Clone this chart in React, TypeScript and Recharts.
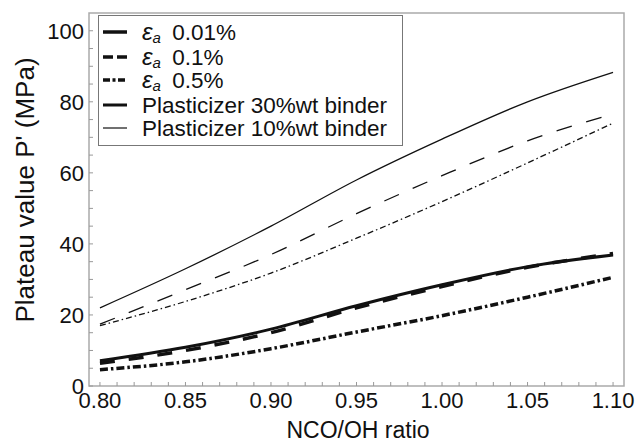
import React from 'react';
import { LineChart, Line, XAxis, YAxis, Legend, ReferenceArea } from 'recharts';

const ratios = [0.8, 0.85, 0.9, 0.95, 1.0, 1.05, 1.1];

// plasticizer 10%wt binder (thin lines)
const thin001 = [22.0, 33.0, 45.0, 58.0, 69.5, 80.0, 88.3];
const thin01 = [17.4, 27.1, 37.0, 48.5, 59.2, 69.0, 76.6];
const thin05 = [17.0, 23.8, 31.8, 41.6, 51.9, 62.8, 74.0];

// plasticizer 30%wt binder (thick lines)
const thick001 = [7.1, 10.9, 16.0, 22.6, 28.5, 33.6, 36.9];
const thick01 = [6.4, 10.0, 15.0, 22.0, 28.0, 33.4, 37.3];
const thick05 = [4.6, 6.8, 10.5, 15.2, 19.8, 25.0, 30.6];

const xTicks = [
  0.8, 0.81, 0.82, 0.83, 0.84, 0.85, 0.86, 0.87, 0.88, 0.89, 0.9, 0.91, 0.92, 0.93, 0.94, 0.95,
  0.96, 0.97, 0.98, 0.99, 1.0, 1.01, 1.02, 1.03, 1.04, 1.05, 1.06, 1.07, 1.08, 1.09, 1.1,
];
const yTicks = [0, 5, 10, 15, 20, 25, 30, 35, 40, 45, 50, 55, 60, 65, 70, 75, 80, 85, 90, 95, 100];

const rows = ratios.map((x, i) => ({
  x,
  thin001: thin001[i],
  thin01: thin01[i],
  thin05: thin05[i],
  thick001: thick001[i],
  thick01: thick01[i],
  thick05: thick05[i],
}));

const FONT = '"Liberation Sans", Arial, Helvetica, sans-serif';
const PLOT_LEFT = 89;
const PLOT_BOTTOM = 386;
const FRAME = '#aaa';
const INK = '#111';

function XTick(props: any) {
  const { x, payload } = props;
  const v = payload.value as number;
  const major = Math.round(v * 100) % 5 === 0;
  return (
    <g>
      <line x1={x} x2={x} y1={PLOT_BOTTOM} y2={PLOT_BOTTOM - 4} stroke="#999" />
      {major && (
        <text x={x} y={PLOT_BOTTOM + 22} textAnchor="middle" fontFamily={FONT} fontSize={22} fill={INK}>
          {v.toFixed(2)}
        </text>
      )}
    </g>
  );
}

function YTick(props: any) {
  const { y, payload } = props;
  const v = payload.value as number;
  const major = v % 20 === 0;
  return (
    <g>
      <line x1={PLOT_LEFT} x2={PLOT_LEFT + 4} y1={y} y2={y} stroke="#999" />
      {major && (
        <text x={84} y={y + 8} textAnchor="end" fontFamily={FONT} fontSize={22} fill={INK}>
          {v}
        </text>
      )}
    </g>
  );
}

function YTitle() {
  return (
    <text x={25} y={190} transform="rotate(-90 25 190)" textAnchor="middle" dominantBaseline="central"
      fontFamily={FONT} fontSize={26} fill={INK}>
      Plateau value P' (MPa)
    </text>
  );
}

function XTitle() {
  return (
    <text x={358} y={438} textAnchor="middle" fontFamily={FONT} fontSize={23} fill={INK}>
      NCO/OH ratio
    </text>
  );
}

const legendItems = [
  { eps: true, label: '0.01%', width: 3.5, dash: undefined },
  { eps: true, label: '0.1%', width: 3.5, dash: '10 4' },
  { eps: true, label: '0.5%', width: 3.5, dash: '7 2.5 3 2.5' },
  { eps: false, label: 'Plasticizer 30%wt binder', width: 3, dash: undefined },
  { eps: false, label: 'Plasticizer 10%wt binder', width: 1.2, dash: undefined },
];
const rowCenters = [17, 42, 65, 90, 113];

function LegendBox() {
  return (
    <svg width={305} height={131} style={{ display: 'block' }}>
      <rect x={0.5} y={0.5} width={304} height={130} fill="#fff" stroke="#777" />
      {legendItems.map((it, i) => (
        <g key={i}>
          <line x1={5} x2={29} y1={rowCenters[i]} y2={rowCenters[i]} stroke={INK}
            strokeWidth={it.width} strokeDasharray={it.dash} />
          <text x={44} y={rowCenters[i] + 8} fontFamily={FONT} fontSize={22.5} fill={INK}>
            {it.eps && <tspan fontStyle="italic" fontSize={24}>ε</tspan>}
            {it.eps && <tspan fontStyle="italic" fontSize={15} dy={3}>a</tspan>}
            {it.eps ? <tspan dy={-3}>{'\u2002' + it.label}</tspan> : it.label}
          </text>
        </g>
      ))}
    </svg>
  );
}

export default function App() {
  return (
    <div style={{ position: 'absolute', left: 0, top: 0, background: '#fff', fontFamily: FONT }}>
      <LineChart width={638} height={444} data={rows} margin={{ top: 13, right: 14, bottom: 0, left: 0 }}>
        <ReferenceArea x1={0.7936} x2={1.1064} y1={0} y2={105} fill="none" stroke={FRAME} strokeWidth={1.5} ifOverflow="visible" />
        <XAxis dataKey="x" type="number" domain={[0.7936, 1.1064]} ticks={xTicks} interval={0}
          tick={<XTick />} tickLine={false} axisLine={false} height={58} label={<XTitle />} />
        <YAxis type="number" domain={[0, 105]} ticks={yTicks} interval={0}
          tick={<YTick />} tickLine={false} axisLine={false} width={89} label={<YTitle />} />
        <Legend layout="vertical" align="center" verticalAlign="middle" content={() => <LegendBox />}
          wrapperStyle={{ left: 98, top: 15, width: 305, height: 131 }} />
        <Line type="monotone" dataKey="thin001" stroke={INK} strokeWidth={1.3} dot={false} isAnimationActive={false} />
        <Line type="monotone" dataKey="thin01" stroke={INK} strokeWidth={1.3} strokeDasharray="16 15" dot={false} isAnimationActive={false} />
        <Line type="monotone" dataKey="thin05" stroke={INK} strokeWidth={1.3} strokeDasharray="6 3 1.5 3" dot={false} isAnimationActive={false} />
        <Line type="monotone" dataKey="thick01" stroke={INK} strokeWidth={3.5} strokeDasharray="15 14" dot={false} isAnimationActive={false} />
        <Line type="monotone" dataKey="thick001" stroke={INK} strokeWidth={3} dot={false} isAnimationActive={false} />
        <Line type="monotone" dataKey="thick05" stroke={INK} strokeWidth={3.5} strokeDasharray="8 3 2.5 3" dot={false} isAnimationActive={false} />
      </LineChart>
    </div>
  );
}
